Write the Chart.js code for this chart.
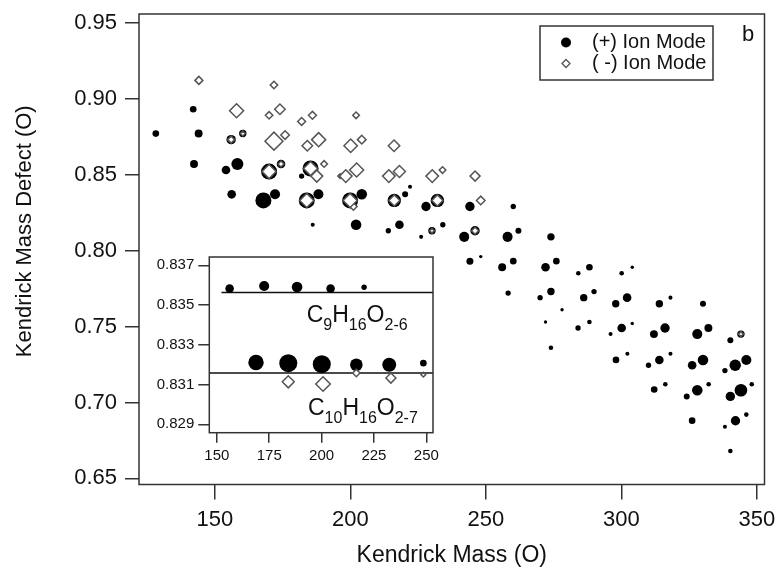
<!DOCTYPE html>
<html>
<head>
<meta charset="utf-8">
<title>Kendrick Mass Defect (O)</title>
<script src="https://cdn.jsdelivr.net/npm/chart.js"></script>
<style>
  body { margin: 0; background: #fff; }
  #wrap { position: relative; width: 776px; height: 567px; }
  #main { position: absolute; left: 0; top: 0; }
  #inset { position: absolute; left: 150px; top: 248px; background: #fff; }
</style>
</head>
<body>
<div id="wrap">
  <canvas id="main" width="776" height="567"></canvas>
  <canvas id="inset" width="292" height="225"></canvas>
</div>
<script>
// Kendrick mass defect plot (oxygen base) with the C9 / C10 inset
const FONT = '"Liberation Sans", Arial, Helvetica, sans-serif';

// (+) ion mode: Kendrick mass, Kendrick mass defect, relative intensity
const posMass = [128.2, 142.0, 144.0, 142.3, 154.1, 158.3, 156.2, 156.0, 160.3, 170.0,
  174.4, 167.9, 172.2, 182.0, 185.3, 183.9, 188.2, 186.1, 199.9, 204.2,
  216.2, 220.2, 222.0, 227.9, 232.1, 244.1, 260.1, 202.1, 214.0, 218.1,
  226.1, 230.1, 234.1, 242.0, 246.0, 258.0, 262.0, 274.0, 244.1, 248.1,
  256.0, 260.1, 272.0, 276.0, 284.1, 288.2, 258.2, 270.0, 274.0, 286.1,
  289.9, 278.1, 272.0, 284.0, 288.2, 296.0, 274.0, 300.1, 304.0, 297.9,
  302.1, 314.0, 318.1, 330.1, 300.1, 304.0, 312.0, 316.1, 328.0, 332.1,
  340.2, 344.1, 298.0, 302.2, 310.0, 314.0, 318.1, 326.1, 330.1, 338.2,
  342.0, 346.1, 312.1, 316.2, 324.1, 328.0, 332.2, 340.2, 344.1, 348.1,
  326.1, 338.2, 342.1, 346.1, 340.2];
const posDefect = [0.877, 0.893, 0.877, 0.857, 0.853, 0.857, 0.837, 0.873, 0.877, 0.852,
  0.857, 0.833, 0.837, 0.849, 0.854, 0.833, 0.837, 0.817, 0.833, 0.837,
  0.833, 0.837, 0.842, 0.829, 0.833, 0.829, 0.829, 0.817, 0.813, 0.817,
  0.809, 0.813, 0.817, 0.809, 0.813, 0.809, 0.813, 0.809, 0.793, 0.796,
  0.789, 0.793, 0.789, 0.793, 0.785, 0.789, 0.772, 0.769, 0.773, 0.769,
  0.773, 0.761, 0.753, 0.749, 0.753, 0.745, 0.736, 0.785, 0.789, 0.765,
  0.769, 0.765, 0.769, 0.765, 0.749, 0.752, 0.745, 0.749, 0.745, 0.749,
  0.741, 0.745, 0.728, 0.732, 0.7245, 0.728, 0.732, 0.7245, 0.728, 0.721,
  0.7245, 0.728, 0.7085, 0.712, 0.704, 0.708, 0.712, 0.704, 0.708, 0.712,
  0.688, 0.684, 0.688, 0.692, 0.668];
const posInt = [28, 28, 38, 38, 43, 69, 43, 49, 34, 100,
  43, 100, 54, 18, 100, 100, 54, 8, 100, 58,
  80, 23, 8, 49, 80, 49, 18, 58, 18, 43,
  8, 34, 18, 54, 49, 54, 23, 34, 31, 3,
  38, 28, 43, 28, 12, 28, 18, 18, 34, 34,
  18, 3, 3, 18, 12, 8, 12, 12, 3, 34,
  43, 34, 8, 23, 43, 3, 38, 49, 54, 38,
  23, 34, 28, 8, 18, 43, 8, 43, 58, 18,
  65, 54, 28, 12, 23, 58, 12, 49, 74, 12,
  28, 8, 49, 12, 12];

// (-) ion mode
const negMass = [144.1, 158.0, 171.8, 170.0, 174.0, 171.8, 175.9, 182.0, 186.0, 184.1,
  188.3, 187.6, 190.3, 196.2, 202.1, 200.1, 204.2, 216.1, 198.3, 202.3,
  214.2, 218.1, 230.2, 234.0, 246.0, 201.1, 248.1, 156.0, 160.3, 170.0,
  174.4, 185.3, 183.9, 199.9, 216.2, 232.1, 230.1, 246.0, 344.1];
const negDefect = [0.912, 0.892, 0.909, 0.889, 0.893, 0.872, 0.876, 0.885, 0.889, 0.869,
  0.873, 0.849, 0.857, 0.849, 0.889, 0.869, 0.873, 0.869, 0.849, 0.853,
  0.849, 0.852, 0.849, 0.853, 0.849, 0.829, 0.833, 0.873, 0.877, 0.852,
  0.857, 0.854, 0.833, 0.833, 0.833, 0.833, 0.813, 0.813, 0.745];
const negInt = [38, 85, 34, 34, 58, 115, 43, 38, 38, 58,
  85, 69, 28, 12, 28, 80, 43, 65, 74, 85,
  74, 69, 74, 28, 54, 34, 43, 31, 15, 85,
  23, 85, 85, 85, 62, 62, 12, 31, 15];

const xTicks = [150, 200, 250, 300, 350];
const yTicks = [0.65, 0.70, 0.75, 0.80, 0.85, 0.90, 0.95];

// inset: the two homologous series
const insetPosMass = [156.1, 172.6, 188.3, 204.3, 220.3, 168.7, 184.1, 200.1, 216.6, 232.3, 248.6];
const insetPosDefect = [0.83583, 0.83596, 0.83591, 0.83583, 0.8359, 0.83211, 0.83208, 0.83203, 0.8320, 0.8320, 0.83208];
const insetPosInt = [37, 47, 51, 37, 16, 83, 100, 100, 64, 73, 24];
const insetNegMass = [184.1, 200.7, 216.6, 233.1, 248.6];
const insetNegDefect = [0.83114, 0.83103, 0.83158, 0.83133, 0.8315];
const insetNegInt = [60, 77, 29, 47, 11];

const seriesNames = ['C{9}H{16}O{2-6}', 'C{10}H{16}O{2-7}'];
const seriesDefect = [0.83563, 0.83158];
const seriesStart = [152.2, 146.4];

const insetXTicks = [150, 175, 200, 225, 250];
const insetYTicks = [0.829, 0.831, 0.833, 0.835, 0.837];
const insetXMin = 146.4, insetXMax = 253.2;

function pts(xs, ys) {
  return xs.map((x, i) => ({ x: x, y: ys[i] }));
}

// fixed axis boxes; zero the label overhang so the plot area stays put
function fixX(h) {
  return s => { s.height = h; s.paddingLeft = 0; s.paddingRight = 0; };
}
function fixY(w) {
  return s => { s.width = w; s.paddingTop = 0; s.paddingBottom = 0; };
}

// box around the plot area
const frame = {
  id: 'frame',
  afterDatasetsDraw(chart) {
    const { ctx, chartArea: a } = chart;
    ctx.save();
    ctx.strokeStyle = '#333';
    ctx.lineWidth = 1.5;
    ctx.strokeRect(a.left, a.top, a.right - a.left, a.bottom - a.top);
    ctx.restore();
  }
};

// legend box inside the plot, panel letter and the y axis title
// (title sits a bit above the middle of the axis in the original)
const legendBox = {
  id: 'legendBox',
  afterDraw(chart) {
    const { ctx, chartArea: a } = chart;
    const bx = a.right - 224.5, by = a.top + 12;
    ctx.save();
    ctx.fillStyle = '#fff';
    ctx.fillRect(bx, by, 173, 54);
    ctx.strokeStyle = '#333';
    ctx.lineWidth = 1.5;
    ctx.strokeRect(bx, by, 173, 54);

    ctx.fillStyle = '#000';
    ctx.beginPath();
    ctx.arc(bx + 26, by + 16.5, 5, 0, Math.PI * 2);
    ctx.fill();

    const dy = by + 37.5, dx = bx + 26, r = 4;
    ctx.beginPath();
    ctx.moveTo(dx - r, dy);
    ctx.lineTo(dx, dy - r);
    ctx.lineTo(dx + r, dy);
    ctx.lineTo(dx, dy + r);
    ctx.closePath();
    ctx.fillStyle = '#fff';
    ctx.fill();
    ctx.strokeStyle = '#555';
    ctx.lineWidth = 1.3;
    ctx.stroke();

    ctx.fillStyle = '#111';
    ctx.font = '20px ' + FONT;
    ctx.textBaseline = 'middle';
    ctx.fillText(chart.data.datasets[0].label, bx + 52, by + 16.5);
    ctx.fillText(chart.data.datasets[1].label, bx + 52, by + 37.5);

    ctx.font = '22px ' + FONT;
    ctx.textAlign = 'center';
    ctx.fillText('b', a.right - 16.5, a.top + 21);

    ctx.translate(25, (a.top + a.bottom) / 2 - 18);
    ctx.rotate(-Math.PI / 2);
    ctx.fillText('Kendrick Mass Defect (O)', 0, 0);
    ctx.restore();
  }
};

new Chart(document.getElementById('main'), {
  type: 'scatter',
  data: {
    datasets: [
      {
        label: '(+) Ion Mode',
        data: pts(posMass, posDefect),
        pointStyle: 'circle',
        pointRadius: c => 1.5 + 0.065 * posInt[c.dataIndex],
        backgroundColor: '#000',
        borderWidth: 0,
        order: 2
      },
      {
        label: '( -) Ion Mode',
        data: pts(negMass, negDefect),
        pointStyle: 'rectRot',
        pointRadius: c => 1.5 + 0.065 * negInt[c.dataIndex],
        backgroundColor: '#fff',
        borderColor: '#555',
        borderWidth: 1.5,
        order: 1
      }
    ]
  },
  options: {
    responsive: false,
    animation: false,
    events: [],
    layout: { padding: { top: 14, right: 11.5, bottom: 0, left: 0 } },
    plugins: { legend: { display: false }, tooltip: { enabled: false } },
    scales: {
      x: {
        type: 'linear',
        min: 122,
        max: 352.8,
        afterBuildTicks: s => { s.ticks = xTicks.map(v => ({ value: v })); },
        afterFit: fixX(82.5),
        grid: { drawOnChartArea: false, tickLength: 15, color: '#333', lineWidth: 1.5 },
        border: { display: false },
        ticks: { font: { family: FONT, size: 22 }, color: '#111', padding: 7, maxRotation: 0,
          callback: v => String(v) },
        title: { display: true, text: 'Kendrick Mass (O)', font: { family: FONT, size: 23, lineHeight: 1 },
          color: '#111', padding: { top: 0, bottom: 0 } }
      },
      y: {
        type: 'linear',
        min: 0.646,
        max: 0.9557,
        afterBuildTicks: s => { s.ticks = yTicks.map(v => ({ value: v })); },
        afterFit: fixY(139),
        grid: { drawOnChartArea: false, tickLength: 14, color: '#333', lineWidth: 1.5 },
        border: { display: false },
        ticks: { font: { family: FONT, size: 22 }, color: '#111', padding: 8,
          callback: v => v.toFixed(2) }
      }
    }
  },
  plugins: [frame, legendBox]
});

// molecular formula labels with subscripts, e.g. 'C{9}H{16}O{2-6}'
function drawFormula(ctx, str, x, y) {
  str.split(/(\{[^}]*\})/).filter(Boolean).forEach(p => {
    const sub = p[0] === '{';
    const t = sub ? p.slice(1, -1) : p;
    ctx.font = (sub ? 16 : 23) + 'px ' + FONT;
    ctx.fillText(t, x, sub ? y + 7.5 : y);
    x += ctx.measureText(t).width;
  });
}

const formulaLabels = {
  id: 'formulaLabels',
  afterDatasetsDraw(chart) {
    const { ctx, chartArea: a } = chart;
    ctx.save();
    ctx.fillStyle = '#111';
    ctx.textBaseline = 'alphabetic';
    drawFormula(ctx, seriesNames[0], a.left + 97.4, a.top + 65);
    drawFormula(ctx, seriesNames[1], a.left + 98.7, a.top + 158.3);
    ctx.restore();
  }
};

const lineSets = seriesNames.map((n, i) => ({
  label: n,
  data: [{ x: seriesStart[i], y: seriesDefect[i] }, { x: insetXMax, y: seriesDefect[i] }],
  showLine: true,
  borderColor: '#111',
  borderWidth: 1.5,
  pointRadius: 0,
  order: 3
}));

new Chart(document.getElementById('inset'), {
  type: 'scatter',
  data: {
    datasets: lineSets.concat([
      {
        label: '(+)',
        data: pts(insetPosMass, insetPosDefect),
        pointRadius: c => 1.5 + 0.075 * insetPosInt[c.dataIndex],
        backgroundColor: '#000',
        borderWidth: 0,
        order: 2
      },
      {
        label: '(-)',
        data: pts(insetNegMass, insetNegDefect),
        pointStyle: 'rectRot',
        pointRadius: c => 1.5 + 0.075 * insetNegInt[c.dataIndex],
        backgroundColor: '#fff',
        borderColor: '#555',
        borderWidth: 1.5,
        order: 1
      }
    ])
  },
  options: {
    responsive: false,
    animation: false,
    events: [],
    layout: { padding: { top: 8.7, right: 6, bottom: 0, left: 0 } },
    plugins: { legend: { display: false }, tooltip: { enabled: false } },
    scales: {
      x: {
        type: 'linear',
        min: insetXMin,
        max: insetXMax,
        afterBuildTicks: s => { s.ticks = insetXTicks.map(v => ({ value: v })); },
        afterFit: fixX(40.3),
        grid: { drawOnChartArea: false, tickLength: 10, color: '#333', lineWidth: 1.5 },
        border: { display: false },
        ticks: { font: { family: FONT, size: 15 }, color: '#111', padding: 4, maxRotation: 0,
          callback: v => String(v) }
      },
      y: {
        type: 'linear',
        min: 0.82858,
        max: 0.83742,
        afterBuildTicks: s => { s.ticks = insetYTicks.map(v => ({ value: v })); },
        afterFit: fixY(59.3),
        grid: { drawOnChartArea: false, tickLength: 11, color: '#333', lineWidth: 1.5 },
        border: { display: false },
        ticks: { font: { family: FONT, size: 15 }, color: '#111', padding: 4,
          callback: v => v.toFixed(3) }
      }
    }
  },
  plugins: [frame, formulaLabels]
});
</script>
</body>
</html>
